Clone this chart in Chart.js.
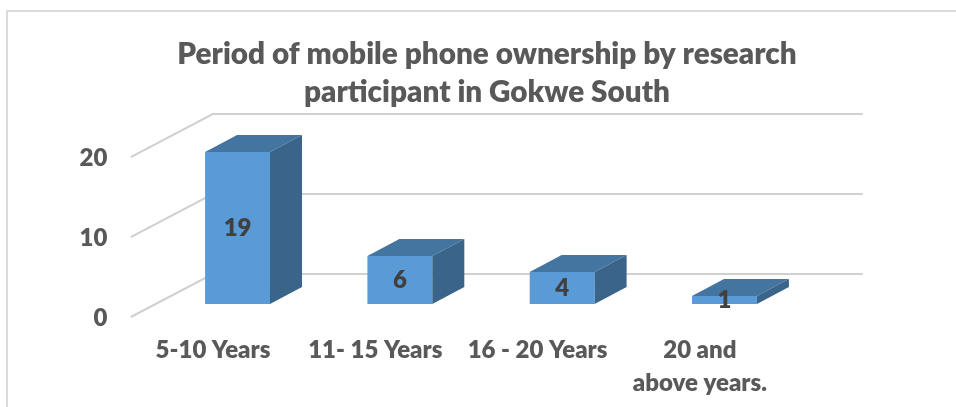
<!DOCTYPE html>
<html>
<head>
<meta charset="utf-8">
<title>Period of mobile phone ownership</title>
<script src="https://cdn.jsdelivr.net/npm/chart.js@4"></script>
<style>
    html, body { margin: 0; padding: 0; background: #fff; overflow: hidden; }
    #frame { position: absolute; left: 6px; top: 10px; width: 960px; height: 400px;
             border-left: 2px solid #dcdcdc; border-top: 2px solid #dcdcdc; }
    #chart { position: absolute; left: 18px; top: 0; }
</style>
</head>
<body>
<div id="frame"></div>
<canvas id="chart" width="938" height="407"></canvas>
<script>
const categories = ['5-10 Years', '11- 15 Years', '16 - 20 Years', ['20 and', 'above years.']]
const participants = [19, 6, 4, 1]
const yTicks = [0, 10, 20]
const titleLines = ['Period of mobile phone ownership by research', 'participant in Gokwe South']

const FONT = 'Lato, sans-serif'
const TEXT_COLOR = '#595959'

// how far the bars sit behind the front edge of the floor, and their own depth
const FLOOR_X = 25.6, FLOOR_Y = 13
const BAR_DX = 32, BAR_DY = 17
const WALL_DX = 82, WALL_DY = 43

function polygon(ctx, points, color) {
    ctx.fillStyle = color;
    ctx.beginPath();
    points.forEach((p, i) => i ? ctx.lineTo(p[0], p[1]) : ctx.moveTo(p[0], p[1]));
    ctx.closePath();
    ctx.fill();
}

// side wall and back wall lines, behind the bars
const walls = {
    id: 'walls',
    beforeDatasetsDraw(chart) {
        const { ctx, scales } = chart;
        const left = scales.x.left - FLOOR_X;
        const right = left + WALL_DX + 650;
        ctx.save();
        ctx.strokeStyle = '#d0d0d0';
        ctx.lineWidth = 2;
        yTicks.forEach(v => {
            const y = scales.y.getPixelForValue(v) + FLOOR_Y;
            ctx.beginPath();
            ctx.moveTo(left, y);
            ctx.lineTo(left + WALL_DX, y - WALL_DY);
            ctx.lineTo(right, y - WALL_DY);
            ctx.stroke();
        });
        ctx.restore();
    }
};

// top and side faces of each bar plus the value in the middle of the front face
const boxes = {
    id: 'boxes',
    afterDatasetsDraw(chart) {
        const { ctx } = chart;
        const meta = chart.getDatasetMeta(0);
        ctx.save();
        meta.data.forEach((bar, i) => {
            const { x, y, base, width } = bar.getProps(['x', 'y', 'base', 'width'], true);
            const l = x - width / 2, r = x + width / 2;
            polygon(ctx, [[l, y], [r, y], [r + BAR_DX, y - BAR_DY], [l + BAR_DX, y - BAR_DY]], '#4475a1');
            polygon(ctx, [[r, y], [r + BAR_DX, y - BAR_DY], [r + BAR_DX, base - BAR_DY], [r, base]], '#3a648a');
            ctx.fillStyle = '#404040';
            ctx.font = '800 24px ' + FONT;
            ctx.textAlign = 'center';
            ctx.textBaseline = 'middle';
            ctx.fillText(participants[i], x, (y + base) / 2);
        });
        ctx.restore();
    }
};

new Chart(document.getElementById('chart'), {
    type: 'bar',
    data: {
        labels: categories,
        datasets: [{
            data: participants,
            backgroundColor: '#5b9bd5',
            barPercentage: 0.4,
            categoryPercentage: 1
        }]
    },
    plugins: [walls, boxes],
    options: {
        responsive: false,
        animation: false,
        plugins: {
            legend: { display: false },
            tooltip: { enabled: false },
            title: {
                display: true,
                text: titleLines,
                color: TEXT_COLOR,
                font: { family: FONT, size: 29.7, weight: '800', lineHeight: 1.28 },
                padding: { top: 35, bottom: 33 }
            }
        },
        scales: {
            x: {
                afterFit: s => { s.height = 103; },
                grid: { display: false, drawTicks: false },
                border: { display: false },
                ticks: {
                    color: TEXT_COLOR,
                    font: { family: FONT, size: 24, weight: '800', lineHeight: 1.375 },
                    padding: 30,
                    labelOffset: -FLOOR_X + 1,
                    autoSkip: false,
                    maxRotation: 0
                }
            },
            y: {
                min: 0,
                max: 20,
                afterFit: s => { s.width = 138.4; },
                afterBuildTicks: s => { s.ticks = yTicks.map(value => ({ value })); },
                grid: { display: false, drawTicks: false },
                border: { display: false },
                ticks: {
                    color: TEXT_COLOR,
                    font: { family: FONT, size: 24, weight: '800' },
                    padding: 49,
                    labelOffset: FLOOR_Y + 1
                }
            },
            // empty axis, only reserves the room right of the bars
            spacer: {
                type: 'linear',
                position: 'right',
                afterFit: s => { s.width = 150.4; },
                grid: { display: false, drawTicks: false },
                border: { display: false },
                ticks: { display: false }
            }
        }
    }
});
</script>
</body>
</html>
